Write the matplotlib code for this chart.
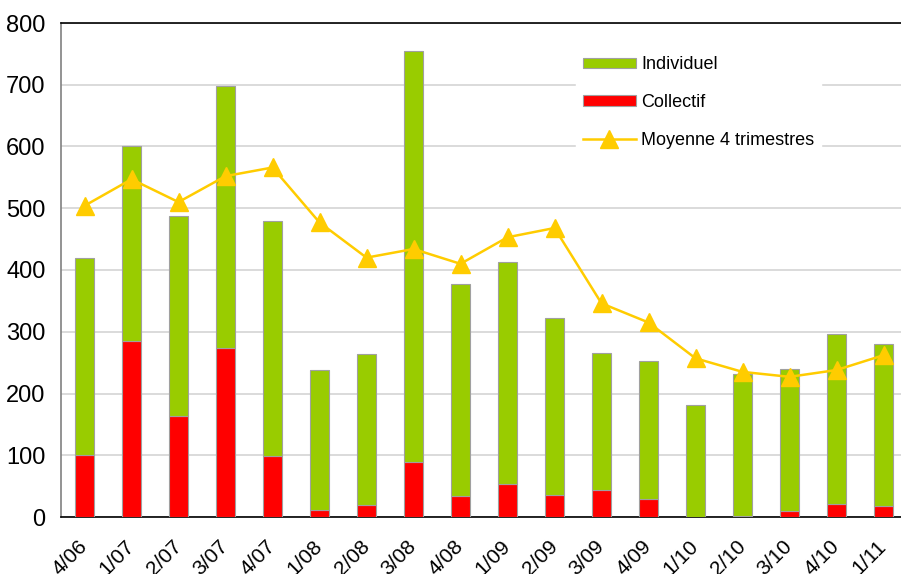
import matplotlib.pyplot as plt
import numpy as np

plt.rcParams['font.family'] = ['Liberation Sans', 'DejaVu Sans']

trimestres = ['4/06', '1/07', '2/07', '3/07', '4/07', '1/08', '2/08', '3/08', '4/08',
              '1/09', '2/09', '3/09', '4/09', '1/10', '2/10', '3/10', '4/10', '1/11']
total = [420, 600, 488, 698, 479, 238, 264, 755, 378,
         413, 323, 266, 253, 182, 231, 240, 296, 280]
collectif = [101, 285, 164, 273, 98, 12, 20, 89, 34,
             54, 36, 44, 29, 0, 2, 9, 21, 18]
moyenne = [504, 547, 510, 552, 566, 477, 420, 434, 410,
           453, 468, 346, 315, 257, 235, 227, 238, 262]

individuel = [t - c for t, c in zip(total, collectif)]
x = np.arange(len(trimestres))

fig = plt.figure(figsize=(9.01, 5.74), dpi=100)
ax = fig.add_axes([61 / 901, 57 / 574, 846 / 901, 494 / 574])

largeur = 0.39
ax.bar(x, collectif, largeur, color='#FF0000', edgecolor='#A0A0A0', linewidth=0.8,
       label='Collectif', zorder=3)
ax.bar(x, individuel, largeur, bottom=collectif, color='#99CC00', edgecolor='#A0A0A0',
       linewidth=0.8, label='Individuel', zorder=3)
ax.plot(x, moyenne, color='#FFCC00', linewidth=1.8, marker='^', markersize=13,
        label='Moyenne 4 trimestres', zorder=4)

ax.set_xlim(-0.5, len(trimestres) - 0.5)
ax.set_ylim(0, 800)
ax.set_yticks(range(0, 801, 100))
ax.yaxis.grid(True, color='#D4D4D4', linewidth=1.2, zorder=0)
ax.set_axisbelow(True)

ax.set_xticks(x)
ax.set_xticklabels(trimestres, rotation=45, ha='right', va='center', rotation_mode='anchor')
ax.tick_params(axis='both', length=0)
ax.tick_params(axis='x', pad=19, labelsize=15)
ax.tick_params(axis='y', pad=11, labelsize=17)

ax.spines['right'].set_visible(False)
ax.spines['top'].set_color('black')
ax.spines['top'].set_linewidth(1.2)
ax.spines['bottom'].set_color('black')
ax.spines['bottom'].set_linewidth(1.2)
ax.spines['left'].set_color('#808080')
ax.spines['left'].set_linewidth(1.2)

handles, labels = ax.get_legend_handles_labels()
ordre = [2, 1, 0]
leg = ax.legend([handles[i] for i in ordre], [labels[i] for i in ordre],
                loc='upper left', bbox_to_anchor=(567 / 901, 1 - 40 / 574),
                bbox_transform=fig.transFigure, fontsize=13, frameon=True,
                fancybox=False, edgecolor='white', framealpha=1,
                handlelength=2.9, handleheight=0.5, labelspacing=1.15,
                handletextpad=0.3, borderpad=0.4)

fig.savefig('out.png', dpi=100)
